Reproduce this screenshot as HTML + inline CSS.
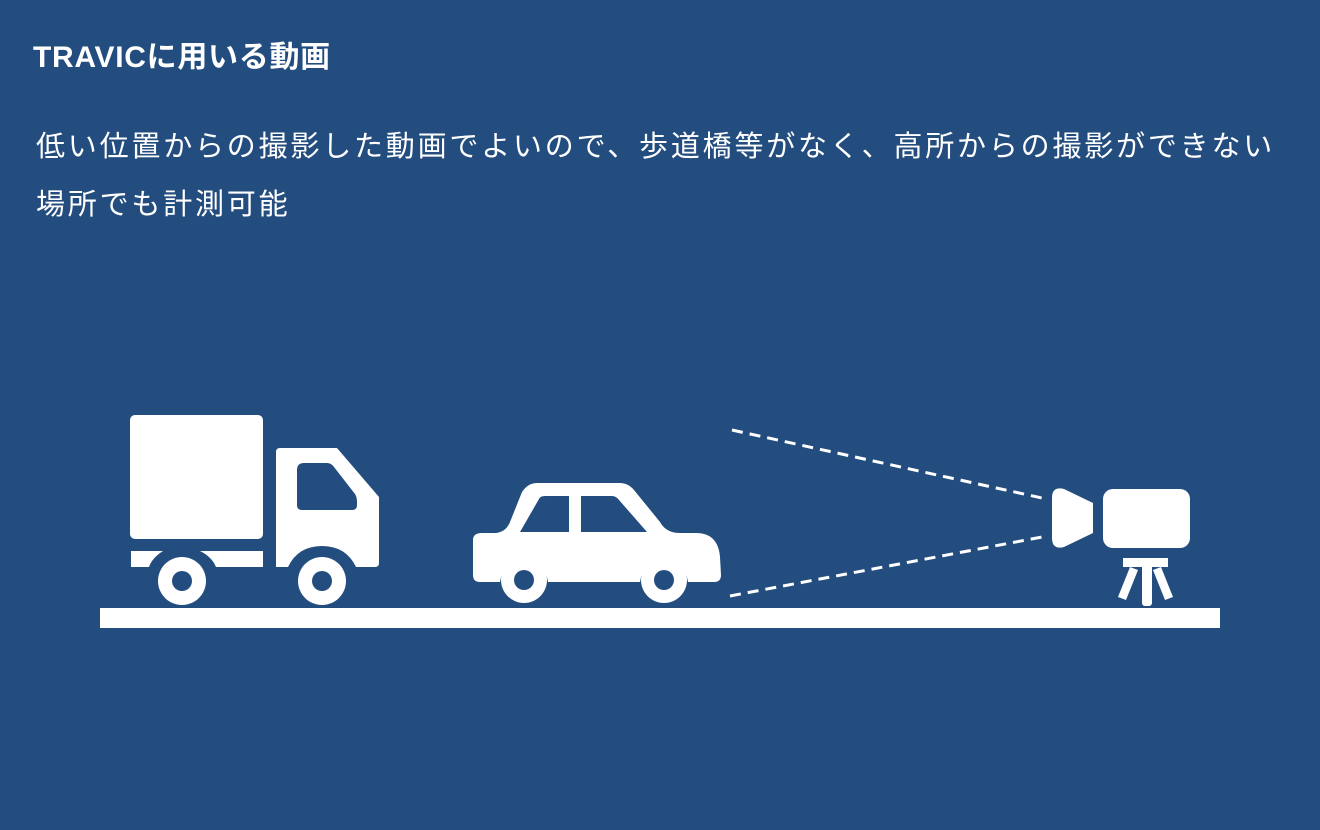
<!DOCTYPE html>
<html><head><meta charset="utf-8"><style>
html,body{margin:0;padding:0;}
body{width:1320px;height:830px;background:#244d7f;position:relative;overflow:hidden;font-family:"Liberation Sans","Noto Sans CJK JP",sans-serif;color:#fff;}
.t{position:absolute;left:33px;top:38px;font-size:30px;font-weight:bold;white-space:nowrap;line-height:40px;letter-spacing:0.7px;}
.b{position:absolute;left:36px;top:118px;font-size:29px;letter-spacing:2.8px;line-height:58px;white-space:nowrap;}
svg{position:absolute;left:0;top:0;}
</style></head><body>
<div class="t">TRAVICに用いる動画</div>
<div class="b">低い位置からの撮影した動画でよいので、歩道橋等がなく、高所からの撮影ができない<br>場所でも計測可能</div>
<svg width="1320" height="830" viewBox="0 0 1320 830">
<g fill="#fff">
<rect x="100" y="608" width="1120" height="20"/>
<rect x="130" y="415" width="133" height="124" rx="5"/>
<path d="M131 551 H163 Q152 558 149 567 H131 Z"/>
<path d="M200 551 H263 V567 H216 Q212 557 200 551 Z"/>
<path d="M276 452 Q276 448 280 448 H337 L379 497 V563 Q379 567 375 567 H356 Q346 546 322 546 Q298 546 288 567 H276 Z"/>
<circle cx="182" cy="581" r="24"/>
<circle cx="322" cy="581" r="24"/>
<path d="M473 540 Q473 533 482 533 H496 Q506 532 510 522 L522 492 Q528 483 537 483 H620 Q628 483 634 490 L660 522 Q666 533 680 533 H696 Q718 533 720 557 L721 575 Q721 582 714 582 H688 Q684 558 664 558 Q644 558 640 582 H548 Q544 558 524 558 Q504 558 500 582 H480 Q473 582 473 575 Z"/>
<circle cx="524" cy="580" r="23"/>
<circle cx="664" cy="580" r="23"/>
<path d="M1052 498 Q1052 486 1064 489 L1093 503 V533 L1064 547 Q1052 550 1052 538 Z"/>
<rect x="1103" y="489" width="87" height="59" rx="10"/>
<rect x="1123" y="558" width="45" height="9"/>
<rect x="1142" y="564" width="10" height="42" rx="3"/>
<path d="M1130 567 L1138 570 L1126 600 L1118 597 Z"/>
<path d="M1161 567 L1153 570 L1165 600 L1173 597 Z"/>
</g>
<g fill="#244d7f">
<path d="M297 470 Q297 463 304 463 H327 Q331 463 334 467 L355 494 Q357 497 357 502 V505 Q357 510 352 510 H302 Q297 510 297 505 Z"/>
<path d="M539 499 Q540 496 545 496 H569 V532 H520 Z"/>
<path d="M581 496 H612 Q616 496 619 500 L647 532 H581 Z"/>
<circle cx="182" cy="581" r="10"/>
<circle cx="322" cy="581" r="10"/>
<circle cx="524" cy="580" r="10"/>
<circle cx="664" cy="580" r="10"/>
</g>
<g stroke="#fff" stroke-width="3" stroke-dasharray="11 7" fill="none">
<line x1="732" y1="430" x2="1042" y2="498"/>
<line x1="730" y1="596" x2="1042" y2="537"/>
</g>
</svg>
</body></html>
